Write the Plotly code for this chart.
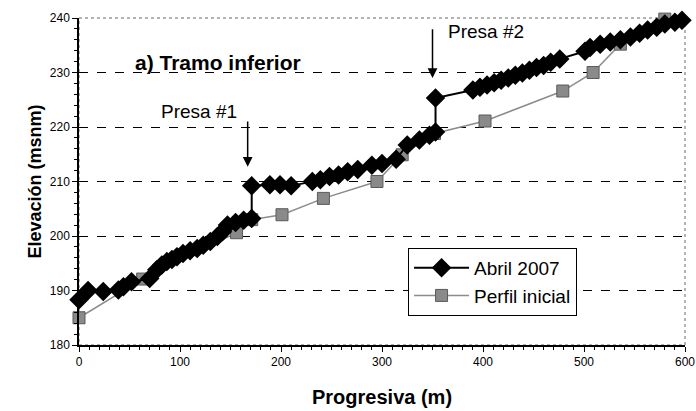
import plotly.graph_objects as go

# Abril 2007 profile (diamonds)
abril_x = [0, 9, 24, 39, 44, 52, 70, 77, 82, 87, 92, 97, 103, 110, 117, 123,
           130, 137, 142, 147, 155, 163, 171, 171, 189, 199, 210, 231, 239,
           248, 257, 266, 276, 290, 300, 314, 325, 337, 347, 353, 353, 390,
           397, 404, 411, 418, 425, 432, 439, 446, 453, 460, 467, 476, 501,
           506, 516, 526, 536, 546, 555, 563, 572, 580, 590, 597]
abril_y = [188.3, 190.0, 189.8, 190.1, 190.7, 191.6, 192.2, 193.8, 194.7,
           195.3, 195.7, 196.2, 196.8, 197.3, 197.7, 198.3, 199.0, 199.9,
           200.8, 202.0, 202.5, 202.9, 203.2, 209.2, 209.4, 209.4, 209.2,
           210.0, 210.3, 210.9, 211.2, 211.8, 212.2, 213.0, 213.3, 214.1,
           216.7, 217.6, 218.5, 219.1, 225.3, 226.8, 227.3, 227.7, 228.1,
           228.6, 229.0, 229.5, 229.9, 230.4, 230.9, 231.3, 231.9, 232.5,
           233.9, 234.6, 235.2, 235.6, 236.0, 236.5, 237.2, 237.8, 238.3,
           238.9, 239.2, 239.6]

# Perfil inicial (squares)
perfil_x = [0, 63, 156, 171, 201, 242, 295, 320, 352, 402, 479, 509, 536, 580]
perfil_y = [185.0, 192.1, 200.6, 203.0, 203.9, 206.9, 210.0, 214.9, 218.8,
            221.1, 226.6, 230.0, 235.2, 239.8]

FONT = "Arial, Liberation Sans, sans-serif"

fig = go.Figure()
fig.add_trace(go.Scatter(
    x=perfil_x, y=perfil_y, mode="lines+markers", name="Perfil inicial",
    line=dict(color="#8c8c8c", width=1.5),
    marker=dict(symbol="square", size=12, color="#8a8a8a",
                line=dict(color="#5a5a5a", width=1)),
    cliponaxis=False,
))
fig.add_trace(go.Scatter(
    x=abril_x, y=abril_y, mode="lines+markers", name="Abril 2007",
    line=dict(color="black", width=2),
    marker=dict(symbol="diamond", size=15, color="black"),
    cliponaxis=False,
))

# frame of the plot area (grey, like the original)
fig.add_shape(type="rect", xref="paper", yref="paper", x0=0, x1=1, y0=0, y1=1,
              line=dict(color="#9a9a9a", width=1.5, dash="dot"), layer="between")

fig.add_annotation(x=53, y=231.9, text="<b>a) Tramo inferior</b>", showarrow=False,
                   xanchor="left", font=dict(size=21, family=FONT, color="black"))
fig.add_annotation(x=119, y=222.8, text="Presa #1", showarrow=False,
                   font=dict(size=19, family=FONT, color="black"))
fig.add_annotation(x=403, y=237.6, text="Presa #2", showarrow=False,
                   font=dict(size=19, family=FONT, color="black"))
for ax_x, tip_y, tail_y in [(167, 212.7, 221.3), (350, 229.0, 238.2)]:
    fig.add_annotation(x=ax_x, y=tip_y, ax=ax_x, ay=tail_y, axref="x", ayref="y",
                       text="", showarrow=True, arrowhead=2, arrowsize=1.3,
                       arrowwidth=1.5, arrowcolor="black")

# axis titles placed as paper annotations
fig.add_annotation(x=0.5, y=-0.12, xref="paper", yref="paper", yanchor="top",
                   text="<b>Progresiva (m)</b>", showarrow=False,
                   font=dict(size=20, family=FONT, color="black"))
fig.add_annotation(x=-0.094, y=0.5, xref="paper", yref="paper", textangle=-90,
                   text="<b>Elevación (msnm)</b>", showarrow=False,
                   font=dict(size=18, family=FONT, color="black"))

fig.update_layout(
    width=696, height=411,
    paper_bgcolor="white", plot_bgcolor="white",
    margin=dict(l=79, r=11, t=18, b=66),
    font=dict(family=FONT, size=12, color="black"),
    legend=dict(x=0.543, y=0.297, xanchor="left", yanchor="top",
                bgcolor="white", bordercolor="black", borderwidth=1,
                font=dict(size=19), traceorder="reversed",
                tracegroupgap=0, itemwidth=55),
)
fig.update_xaxes(
    range=[0, 600], dtick=100, showgrid=False, zeroline=False, automargin=False,
    showline=True, linecolor="black", linewidth=1.5,
    ticks="outside", ticklen=5, tickcolor="black",
    minor=dict(dtick=10, ticks="outside", ticklen=3, tickcolor="black", showgrid=False),
)
fig.update_yaxes(
    range=[180, 240], dtick=10, zeroline=False, automargin=False,
    showgrid=True, gridcolor="black", gridwidth=1, griddash="dash",
    showline=True, linecolor="black", linewidth=1.5,
    ticks="outside", ticklen=5, tickcolor="black",
    minor=dict(dtick=2, ticks="outside", ticklen=3, tickcolor="black", showgrid=False),
)

# drop the default page margin so the figure sits at the window's corner
fig.write_html("out.html", config={"displayModeBar": False},
               post_script="document.body.style.margin = '0';")
